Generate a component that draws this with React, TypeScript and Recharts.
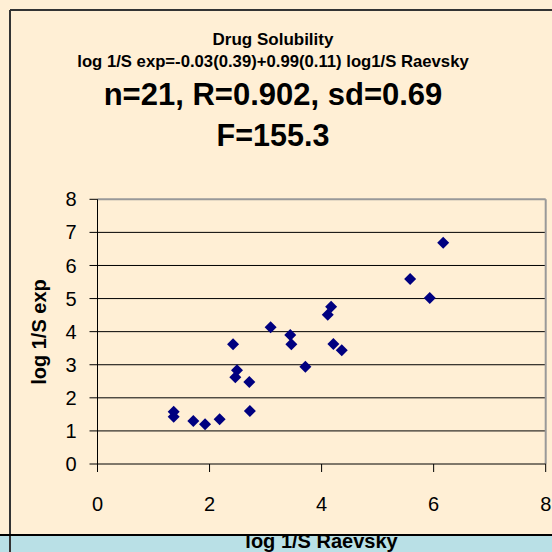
import React from 'react';
import {
  ScatterChart,
  Scatter,
  XAxis,
  YAxis,
  CartesianGrid,
  ReferenceLine,
} from 'recharts';

// Predicted (Raevsky) vs experimental log 1/S for 21 drugs
const raevsky = [
  6.17, 5.58, 5.93, 4.17, 4.11, 3.09, 3.44, 3.46, 2.42, 4.21, 4.36,
  3.71, 2.49, 2.46, 2.71, 2.72, 2.18, 1.71, 1.92, 1.36, 1.36,
];
const experimental = [
  6.69, 5.59, 5.02, 4.75, 4.51, 4.13, 3.9, 3.62, 3.62, 3.63, 3.44,
  2.94, 2.83, 2.62, 2.48, 1.6, 1.35, 1.3, 1.2, 1.58, 1.43,
];
const xTicks = [0, 2, 4, 6, 8];
const yTicks = [0, 1, 2, 3, 4, 5, 6, 7, 8];
const gridValues = [1, 2, 3, 4, 5, 6, 7];

const titleLines = [
  'Drug  Solubility',
  'log 1/S exp=-0.03(0.39)+0.99(0.11) log1/S Raevsky',
  'n=21, R=0.902, sd=0.69',
  'F=155.3',
];

const FONT = 'Arial, "Liberation Sans", sans-serif';
const CREAM = '#FFEFD5';
const BAND = '#B9E0E6';

const points = raevsky.map((x, i) => ({ x, y: experimental[i] }));

// Excel-style square diamond marker
const Diamond = (props: any) => {
  const { cx, cy } = props;
  const r = 6;
  return (
    <polygon
      points={`${cx},${cy - r} ${cx + r},${cy} ${cx},${cy + r} ${cx - r},${cy}`}
      fill="#000080"
    />
  );
};

const App: React.FC = () => {
  return (
    <div style={{ position: 'absolute', left: 0, top: 0, width: 552, height: 552 }}>
      <svg
        width={552}
        height={552}
        style={{ position: 'absolute', left: 0, top: 0 }}
      >
        <rect x={0} y={0} width={552} height={552} fill={CREAM} />
        <rect x={0} y={536} width={552} height={16} fill={BAND} />
        <line x1={10} y1={10} x2={552} y2={10} stroke="#333" strokeWidth={2} />
        <line x1={10} y1={10} x2={10} y2={552} stroke="#333" strokeWidth={2} />
        <line x1={0} y1={535} x2={552} y2={535} stroke="#000" strokeWidth={2} />
        <g fontFamily={FONT} fontWeight="bold" textAnchor="middle" fill="#000">
          <text x={273} y={44.5} fontSize={17}>{titleLines[0]}</text>
          <text x={273} y={66.5} fontSize={16.7}>{titleLines[1]}</text>
          <text x={273} y={105} fontSize={31}>{titleLines[2]}</text>
          <text x={273} y={145.5} fontSize={30.5}>{titleLines[3]}</text>
        </g>
      </svg>
      <div style={{ position: 'absolute', left: 0, top: 0 }}>
        <ScatterChart
          width={552}
          height={552}
          margin={{ top: 199.3, right: 6.3, bottom: 38, left: 37.5 }}
        >
          <CartesianGrid
            horizontal
            vertical={false}
            horizontalValues={gridValues}
            stroke="#000"
            strokeWidth={1}
          />
          <ReferenceLine y={8} stroke="#999" strokeWidth={2} />
          <ReferenceLine x={8} stroke="#999" strokeWidth={2} />
          <XAxis
            type="number"
            dataKey="x"
            domain={[0, 8]}
            ticks={xTicks}
            height={50}
            tickSize={8}
            tickMargin={25}
            axisLine={{ stroke: '#000' }}
            tickLine={{ stroke: '#000' }}
            tick={{ fontSize: 20, fill: '#000', fontFamily: FONT }}
            label={{
              content: () => (
                <g>
                  <defs>
                    <clipPath id="xlab-clip">
                      <rect x={0} y={536} width={552} height={20} />
                    </clipPath>
                  </defs>
                  <text
                    x={321.5}
                    y={547.5}
                    textAnchor="middle"
                    fontSize={20}
                    fontWeight="bold"
                    fontFamily={FONT}
                    fill="#000"
                    clipPath="url(#xlab-clip)"
                  >
                    log 1/S Raevsky
                  </text>
                </g>
              ),
            }}
          />
          <YAxis
            type="number"
            dataKey="y"
            domain={[0, 8]}
            ticks={yTicks}
            width={60}
            tickSize={8}
            tickMargin={13}
            axisLine={{ stroke: '#000' }}
            tickLine={{ stroke: '#000' }}
            tick={{ fontSize: 20, fill: '#000', fontFamily: FONT }}
            label={{
              content: () => (
                <text
                  x={46}
                  y={332}
                  transform="rotate(-90 46 332)"
                  textAnchor="middle"
                  fontSize={20}
                  fontWeight="bold"
                  fontFamily={FONT}
                  fill="#000"
                >
                  log 1/S exp
                </text>
              ),
            }}
          />
          <Scatter data={points} shape={<Diamond />} isAnimationActive={false} />
        </ScatterChart>
      </div>
    </div>
  );
};

export default App;
